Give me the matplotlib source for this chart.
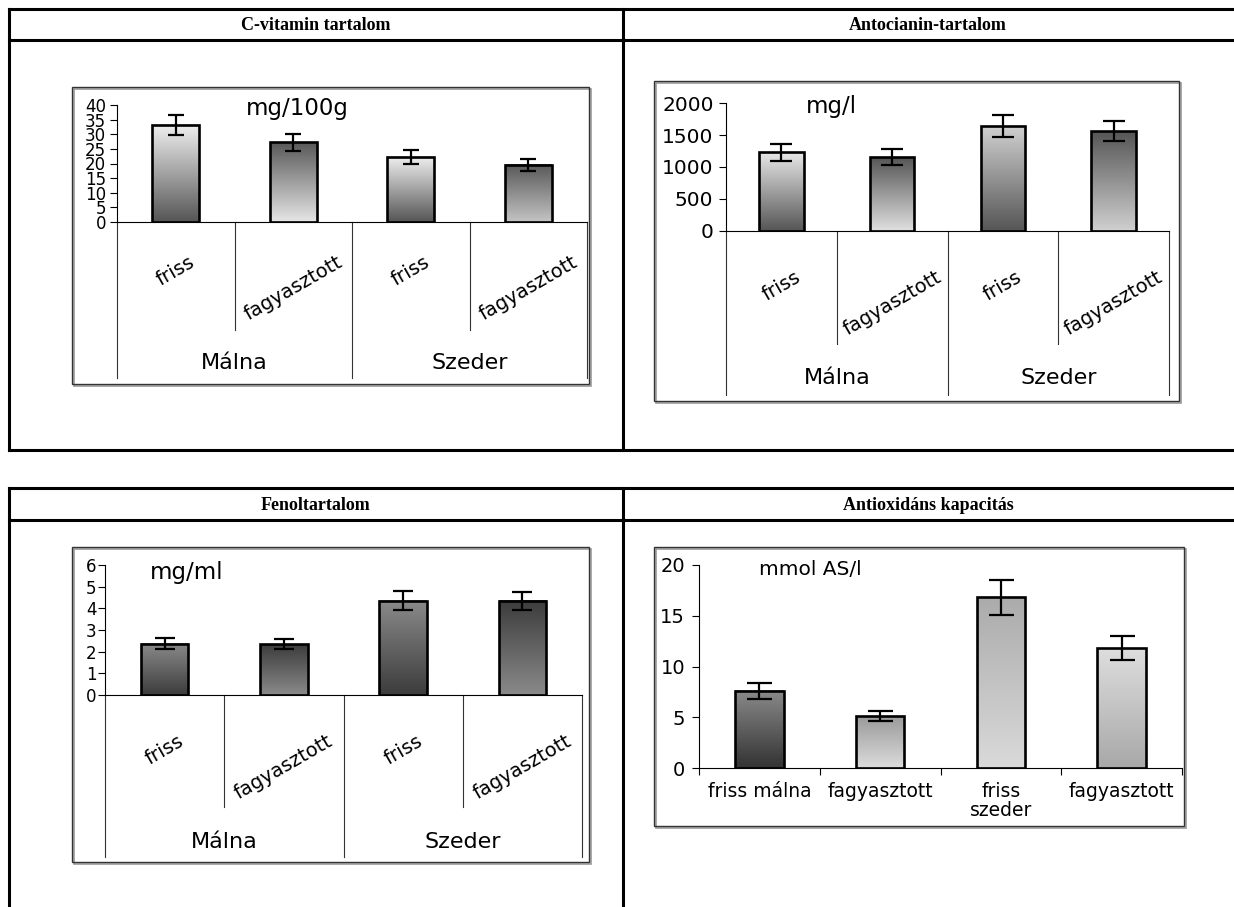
import numpy as np
import matplotlib
matplotlib.use("Agg")
from matplotlib import pyplot as plt
from matplotlib.colors import LinearSegmentedColormap
from matplotlib.patches import Rectangle
from matplotlib.transforms import blended_transform_factory

plt.rcParams['font.family'] = ['DejaVu Sans']

# adatok
kategoriak = ['friss', 'fagyasztott', 'friss', 'fagyasztott']
csoportok = ['Málna', 'Szeder']
antiox_cimkek = ['friss málna', 'fagyasztott', 'friss\nszeder', 'fagyasztott']

cvit = [33.2, 27.3, 22.3, 19.5]
cvit_err = [3.3, 2.9, 2.3, 2.0]
anto = [1230, 1156, 1640, 1562]
anto_err = [130, 120, 170, 160]
fenol = [2.36, 2.35, 4.36, 4.34]
fenol_err = [0.25, 0.24, 0.42, 0.42]
antiox = [7.6, 5.1, 16.8, 11.8]
antiox_err = [0.8, 0.5, 1.7, 1.2]

W, H = 1234, 907
fig = plt.figure(figsize=(W / 100, H / 100), dpi=100)

# tablazat racs
bg = fig.add_axes([0, 0, 1, 1])
bg.set_xlim(0, W)
bg.set_ylim(H, 0)
bg.axis('off')
lw_t = 2.2
for y in [9, 40, 450, 488, 520]:
    bg.plot([9, W], [y, y], color='black', lw=lw_t)
bg.plot([9, 9], [9, 450], color='black', lw=lw_t)
bg.plot([623, 623], [9, 450], color='black', lw=lw_t)
bg.plot([9, 9], [488, H], color='black', lw=lw_t)
bg.plot([623, 623], [488, H], color='black', lw=lw_t)

fejlec = dict(family='Liberation Serif', fontweight='bold', fontsize=13, ha='center', va='center')
bg.text(316, 25, 'C-vitamin tartalom', **fejlec)
bg.text(928, 25, 'Antocianin-tartalom', **fejlec)
bg.text(316, 505, 'Fenoltartalom', **fejlec)
bg.text(928, 505, 'Antioxidáns kapacitás', **fejlec)

# diagram keretek
for (x0, y0, x1, y1) in [(72, 87, 589, 384), (654, 81, 1179, 401),
                         (72, 547, 589, 862), (654, 547, 1184, 826)]:
    bg.add_patch(Rectangle((x0 + 1.5, y0 + 1.5), x1 - x0, y1 - y0, fill=False, ec='#999999', lw=1.2))
    bg.add_patch(Rectangle((x0, y0), x1 - x0, y1 - y0, fill=False, ec='#333333', lw=1.0))


def add_chart(x0, x1, ytop, ybot, lsize, pad):
    ax = fig.add_axes([x0 / W, 1 - ybot / H, (x1 - x0) / W, (ybot - ytop) / H])
    ax.patch.set_alpha(0)
    ax.spines['top'].set_visible(False)
    ax.spines['right'].set_visible(False)
    ax.spines['left'].set_linewidth(0.8)
    ax.spines['bottom'].set_linewidth(0.8)
    ax.tick_params(axis='y', direction='out', length=5, width=0.8, labelsize=lsize, pad=pad)
    ax._box = (ytop, ybot)
    return ax


def yfrac(ax, ypx):
    ytop, ybot = ax._box
    return (ybot - ypx) / (ybot - ytop)


def grad_bars(ax, vals, errs, tetok, aljak, cap, width=0.4):
    x = np.arange(len(vals))
    bars = ax.bar(x, vals, width, facecolor='none', edgecolor='black', lw=1.9, zorder=3)
    grad = np.linspace(0, 1, 256).reshape(-1, 1)
    for b, c_top, c_bot in zip(bars, tetok, aljak):
        cmap = LinearSegmentedColormap.from_list('g', [c_bot, c_top])
        ax.imshow(grad, extent=[b.get_x(), b.get_x() + b.get_width(), 0, b.get_height()],
                  origin='lower', aspect='auto', cmap=cmap, zorder=2)
    ax.errorbar(x, vals, yerr=errs, fmt='none', ecolor='black', elinewidth=1.6,
                capsize=cap, capthick=1.6, zorder=4)
    ax.set_xlim(-0.5, len(vals) - 0.5)


def ket_szintu(ax, y_inner, y_outer, y_lab, y_grp):
    tr = blended_transform_factory(ax.transData, ax.transAxes)
    ax.tick_params(axis='x', length=0, labelbottom=False)
    for i in range(5):
        xb = i - 0.5
        yb = y_outer if i % 2 == 0 else y_inner
        ax.plot([xb, xb], [0, yfrac(ax, yb)], transform=tr, clip_on=False, color='#333333', lw=0.8)
    for i, c in enumerate(kategoriak):
        ax.text(i, yfrac(ax, y_lab), c, transform=tr, rotation=30, ha='center', va='top', fontsize=14)
    for g, nev in enumerate(csoportok):
        ax.text(0.5 + 2 * g, yfrac(ax, y_grp), nev, transform=tr, ha='center', va='center', fontsize=16)


# C-vitamin
ax1 = add_chart(117, 587, 105, 222, 12, 3)
grad_bars(ax1, cvit, cvit_err, ['#f0f0f0', '#585858', '#f0f0f0', '#585858'],
          ['#555555', '#e6e6e6', '#555555', '#c4c4c4'], 6)
ax1.set_ylim(0, 40)
ax1.set_yticks(np.arange(0, 41, 5))
ket_szintu(ax1, 330, 378, 253, 363)
ax1.text(0.6, 38.8, 'mg/100g', ha='left', va='center', fontsize=16.5)

# Antocianin
ax2 = add_chart(726, 1169, 103, 231, 14.5, 4)
grad_bars(ax2, anto, anto_err, ['#e8e8e8', '#555555', '#d0d0d0', '#555555'],
          ['#555555', '#e0e0e0', '#555555', '#d0d0d0'], 8)
ax2.set_ylim(0, 2000)
ax2.set_yticks(np.arange(0, 2001, 500))
ket_szintu(ax2, 344, 395, 268, 378)
ax2.text(0.22, 1940, 'mg/l', ha='left', va='center', fontsize=16.5)

# Fenol
ax3 = add_chart(105, 582, 565, 695, 12, 1)
grad_bars(ax3, fenol, fenol_err, ['#8a8a8a', '#3c3c3c', '#8a8a8a', '#3c3c3c'],
          ['#3c3c3c', '#8a8a8a', '#3c3c3c', '#8a8a8a'], 7)
ax3.set_ylim(0, 6)
ax3.set_yticks(np.arange(0, 7, 1))
ket_szintu(ax3, 807, 857, 732, 842)
ax3.text(-0.12, 5.65, 'mg/ml', ha='left', va='center', fontsize=16.5)

# Antioxidans
ax4 = add_chart(699, 1182, 565, 768, 14, 5)
grad_bars(ax4, antiox, antiox_err, ['#8a8a8a', '#9a9a9a', '#ababab', '#dedede'],
          ['#333333', '#dcdcdc', '#dadada', '#a8a8a8'], 9)
ax4.set_ylim(0, 20)
ax4.set_yticks(np.arange(0, 21, 5))
ax4.set_xticks(np.arange(4))
ax4.set_xticklabels(antiox_cimkek, fontsize=13.5, linespacing=1.0)
ax4.set_xticks(np.arange(5) - 0.5, minor=True)
ax4.tick_params(axis='x', which='major', length=0, pad=10)
ax4.tick_params(axis='x', which='minor', length=5, width=0.8, direction='out')
ax4.text(0.0, 19.6, 'mmol AS/l', ha='left', va='center', fontsize=14.5)

fig.savefig('out.png', dpi=100)
